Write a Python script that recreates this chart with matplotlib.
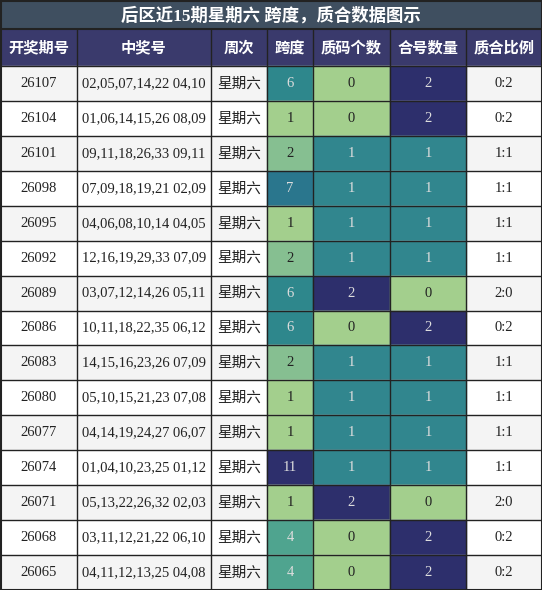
import matplotlib
matplotlib.use("Agg")
import matplotlib.pyplot as plt
from matplotlib.patches import Rectangle

title = "后区近15期星期六 跨度，质合数据图示"
headers = ["开奖期号", "中奖号", "周次", "跨度", "质码个数", "合号数量", "质合比例"]
issues = ["26107","26104","26101","26098","26095","26092","26089","26086","26083","26080","26077","26074","26071","26068","26065"]
numbers = ["02,05,07,14,22 04,10","01,06,14,15,26 08,09","09,11,18,26,33 09,11","07,09,18,19,21 02,09",
           "04,06,08,10,14 04,05","12,16,19,29,33 07,09","03,07,12,14,26 05,11","10,11,18,22,35 06,12",
           "14,15,16,23,26 07,09","05,10,15,21,23 07,08","04,14,19,24,27 06,07","01,04,10,23,25 01,12",
           "05,13,22,26,32 02,03","03,11,12,21,22 06,10","04,11,12,13,25 04,08"]
weekday = "星期六"
spans = [6,1,2,7,1,2,6,6,2,1,1,11,1,4,4]
primes = [0,0,1,1,1,1,2,0,1,1,1,1,2,0,0]
composites = [2,2,1,1,1,1,0,2,1,1,1,1,0,2,2]
ratios = ["0:2","0:2","1:1","1:1","1:1","1:1","2:0","0:2","1:1","1:1","1:1","1:1","2:0","0:2","0:2"]

span_colors = {1:"#a3cf8d", 2:"#86bf91", 4:"#4fa48f", 6:"#2e878c", 7:"#2a768d", 11:"#2d2f6c"}
cnt_colors = {0:"#a3cf8d", 1:"#31868e", 2:"#2d2f6c"}

W, H = 542, 590
fig = plt.figure(figsize=(W/100, H/100), dpi=100)
ax = fig.add_axes([0,0,1,1])
ax.set_xlim(0, W); ax.set_ylim(H, 0); ax.axis("off")

cols = [0, 77, 211, 267, 313, 390, 466, 542]
title_h, head_b = 29, 66
row_h = (H - head_b) / len(issues)
serif = ["Liberation Serif", "Noto Sans CJK SC"]
cjk = ["Noto Sans CJK SC", "DejaVu Sans"]

ax.add_patch(Rectangle((0,0), W, title_h, color="#3f4f60"))
ax.text(W/2, title_h/2+1, title, ha="center", va="center", color="white", fontsize=12.5,
        fontweight="bold", family=["Liberation Serif", "Noto Sans CJK SC"])
ax.add_patch(Rectangle((0,title_h), W, head_b-title_h, color="#3a3a6c"))
for i, h in enumerate(headers):
    ax.text((cols[i]+cols[i+1])/2, (title_h+head_b)/2, h, ha="center", va="center",
            color="white", fontsize=11, fontweight="bold", family=cjk)

for r in range(len(issues)):
    y0 = head_b + r*row_h
    yc = y0 + row_h/2
    ax.add_patch(Rectangle((0,y0), W, row_h, color="#f4f4f4" if r % 2 == 0 else "white"))
    ax.add_patch(Rectangle((cols[3],y0), cols[4]-cols[3], row_h, color=span_colors[spans[r]]))
    ax.add_patch(Rectangle((cols[4],y0), cols[5]-cols[4], row_h, color=cnt_colors[primes[r]]))
    ax.add_patch(Rectangle((cols[5],y0), cols[6]-cols[5], row_h, color=cnt_colors[composites[r]]))
    vals = [issues[r], numbers[r], weekday, str(spans[r]), str(primes[r]), str(composites[r]), ratios[r]]
    colors = ["#222222","#222222","#222222",
              "#222222" if spans[r] in (1,2) else "#dddddd",
              "#222222" if primes[r]==0 else "#dddddd",
              "#222222" if composites[r]==0 else "#dddddd", "#222222"]
    for i, v in enumerate(vals):
        fam = cjk if i == 2 else serif
        ax.text((cols[i]+cols[i+1])/2, yc, v, ha="center", va="center", color=colors[i],
                fontsize=10.5, family=fam)

for x in cols[1:-1]:
    ax.plot([x,x],[title_h,H], color="#222222", lw=1)
for r in range(len(issues)+1):
    y = head_b + r*row_h
    ax.plot([0,W],[y,y], color="#222222", lw=1)
ax.plot([0,W],[title_h,title_h], color="#222222", lw=1.5)
ax.add_patch(Rectangle((0.5,0.5), W-1, H-1, fill=False, ec="#222222", lw=1.5))

fig.savefig("out.png", dpi=100)
